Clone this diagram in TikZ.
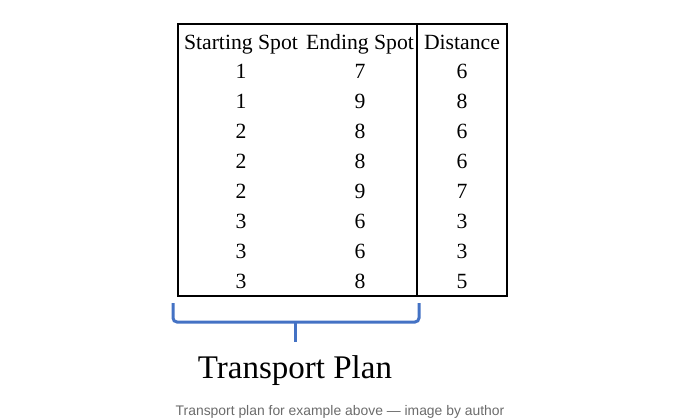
\documentclass[tikz,border=0pt]{standalone}
\usepackage{fontspec}
\setmainfont{Liberation Serif}
\newfontfamily\captionfont{Liberation Sans}
\usetikzlibrary{positioning}
\definecolor{braceblue}{HTML}{4472C4}
\definecolor{captiongray}{HTML}{6B6B6B}
\tikzstyle{cell} = [inner sep=0pt, anchor=base, font=\fontsize{21.7}{24}\selectfont]
\tikzstyle{frame} = [line width=1.6pt]
\tikzstyle{brace} = [line width=3pt, braceblue, rounded corners=4pt]

\begin{document}
\begin{tikzpicture}[x=1pt,y=-1pt]
  \useasboundingbox (0,0) rectangle (680,420);

  % table frame
  \coordinate (tl) at (178,24);
  \coordinate (br) at (507,296);
  \coordinate (dtop) at (417,24);
  \coordinate (dbot) at (417,296);
  \draw[frame] (tl) rectangle (br);
  \draw[frame] (dtop) -- (dbot);

  % header
  \node[cell] (hstart) at (241,49) {Starting Spot};
  \node[cell] (hend) at (360,49) {Ending Spot};
  \node[cell] (hdist) at (462,49) {Distance};

  % rows
  \foreach \s/\e/\d [count=\i] in {1/7/6, 1/9/8, 2/8/6, 2/8/6, 2/9/7, 3/6/3, 3/6/3, 3/8/5} {
    \node[cell] (start\i) at (241,{48+30*\i}) {\s};
    \node[cell] (end\i) at (360,{48+30*\i}) {\e};
    \node[cell] (dist\i) at (462,{48+30*\i}) {\d};
  }

  % brace under the first two columns
  \coordinate (bl) at (173,303);
  \coordinate (bll) at (173,322);
  \coordinate (brr) at (419,322);
  \coordinate (br2) at (419,303);
  \coordinate (bmid) at (295,322);
  \coordinate (btip) at (295,342);
  \draw[brace] (bl) -- (bll) -- (brr) -- (br2);
  \draw[brace] (bmid) -- (btip);

  \node[inner sep=0pt, anchor=base, font=\fontsize{33}{38}\selectfont] (plan) at (295,378) {Transport Plan};
  \node[inner sep=0pt, anchor=base, text=captiongray, font=\captionfont\fontsize{13.9}{16}\selectfont] (caption) at (340,415) {Transport plan for example above — image by author};
\end{tikzpicture}
\end{document}
